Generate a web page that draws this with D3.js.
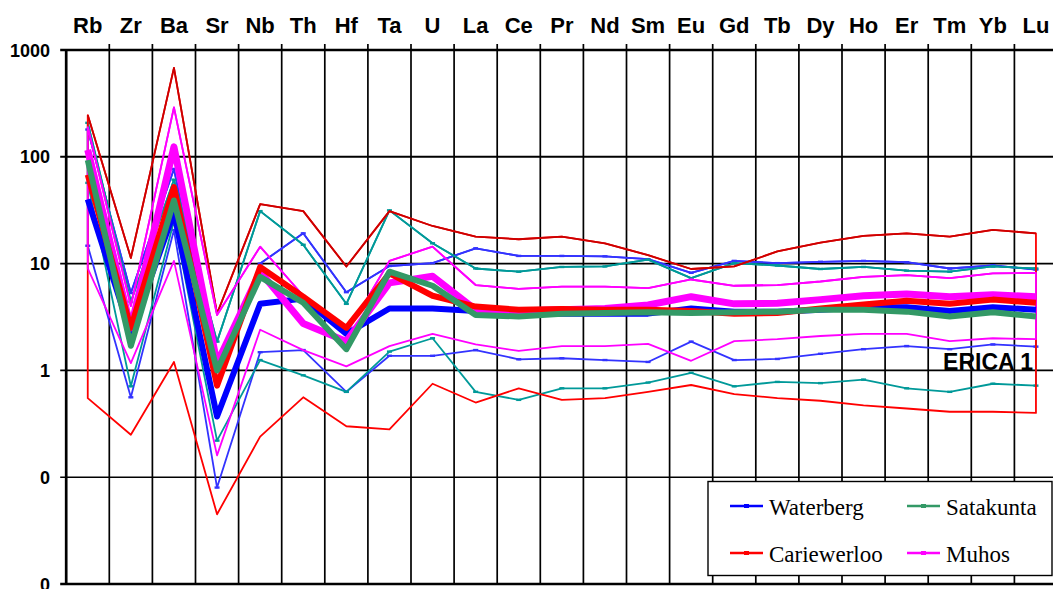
<!DOCTYPE html>
<html>
<head>
<meta charset="utf-8">
<script src="https://cdn.jsdelivr.net/npm/d3@7"></script>
<style>
body { margin: 0; background: white; }
svg { display: block; }
</style>
</head>
<body>
<div id="chart"></div>
<script>
const elements = ['Rb', 'Zr', 'Ba', 'Sr', 'Nb', 'Th', 'Hf', 'Ta', 'U', 'La', 'Ce', 'Pr', 'Nd',
                  'Sm', 'Eu', 'Gd', 'Tb', 'Dy', 'Ho', 'Er', 'Tm', 'Yb', 'Lu'];
const yTicks = [1000, 100, 10, 1, 0.1, 0.01];
const yTickLabels = ['1000', '100', '10', '1', '0', '0'];

const waterbergMax  = [180, 5.3, 77, 0.8, 10, 19.2, 5.4, 9.5, 10.1, 13.9, 11.8, 11.8, 11.7, 11.0, 8.2, 10.6, 10.1, 10.4, 10.6, 10.3, 9.0, 9.6, 8.8];
const waterbergMean = [40, 2.2, 30, 0.37, 4.2, 4.7, 2.2, 3.8, 3.8, 3.6, 3.4, 3.4, 3.4, 3.4, 3.8, 3.55, 3.55, 3.7, 3.9, 3.9, 3.6, 3.9, 3.7];
const waterbergMin  = [14.7, 0.56, 20.6, 0.08, 1.48, 1.55, 0.63, 1.37, 1.37, 1.55, 1.27, 1.3, 1.25, 1.2, 1.86, 1.25, 1.28, 1.43, 1.58, 1.69, 1.58, 1.75, 1.67];

const satakuntaMax  = [208, 4.4, 61, 1.86, 31, 15, 4.2, 31.5, 15.5, 9.0, 8.4, 9.3, 9.4, 10.9, 7.3, 10.1, 9.6, 8.9, 9.3, 8.6, 8.4, 9.4, 9.0];
const satakuntaMean = [93, 1.7, 39, 1.0, 7.5, 4.3, 1.58, 8.4, 6.2, 3.3, 3.2, 3.4, 3.45, 3.5, 3.45, 3.5, 3.55, 3.7, 3.7, 3.55, 3.2, 3.5, 3.2];
const satakuntaMin  = [57, 0.71, 25, 0.22, 1.25, 0.9, 0.63, 1.5, 2.0, 0.63, 0.53, 0.68, 0.68, 0.77, 0.95, 0.71, 0.78, 0.76, 0.82, 0.68, 0.63, 0.75, 0.72];

const cariewerlooMax  = [246, 11.3, 680, 3.4, 36, 31, 9.4, 31, 22.5, 17.9, 16.9, 17.9, 15.5, 12.0, 8.9, 9.4, 13, 15.7, 18.2, 19.2, 17.9, 20.7, 19.2];
const cariewerlooMean = [68, 2.5, 52, 0.72, 9.3, 4.9, 2.5, 8.1, 5.0, 3.96, 3.7, 3.75, 3.7, 3.7, 3.6, 3.4, 3.45, 3.8, 4.15, 4.5, 4.2, 4.6, 4.3];
const cariewerlooMin  = [0.55, 0.25, 1.2, 0.045, 0.24, 0.56, 0.3, 0.28, 0.75, 0.5, 0.68, 0.53, 0.55, 0.63, 0.73, 0.6, 0.55, 0.52, 0.47, 0.44, 0.41, 0.41, 0.4];

const muhosMax  = [190, 4.0, 290, 3.3, 14.4, 5.0, 2.2, 10.6, 14.4, 6.3, 5.8, 6.1, 6.1, 5.9, 7.1, 6.2, 6.3, 6.8, 7.5, 7.8, 7.3, 8.1, 8.2];
const muhosMean = [116, 2.5, 124, 1.17, 8.4, 2.75, 1.87, 6.6, 7.6, 3.7, 3.6, 3.7, 3.8, 4.1, 4.9, 4.2, 4.25, 4.6, 5.0, 5.2, 4.9, 5.1, 4.9];
const muhosMin  = [9.0, 1.17, 10.6, 0.16, 2.4, 1.55, 1.09, 1.69, 2.2, 1.75, 1.52, 1.69, 1.69, 1.77, 1.23, 1.88, 1.96, 2.1, 2.2, 2.2, 1.88, 2.0, 1.96];

const stationLabel = 'ERICA 1';

// legend order: Waterberg, Satakunta / Cariewerloo, Muhos
const groups = [
    { name: 'Waterberg', max: waterbergMax, mean: waterbergMean, min: waterbergMin,
      thin: '#3333ff', upper: '#3333ff', thick: '#0000ff', width: 6, markers: true },
    { name: 'Satakunta', max: satakuntaMax, mean: satakuntaMean, min: satakuntaMin,
      thin: '#009999', upper: '#009999', thick: '#339966', width: 6, markers: true },
    { name: 'Cariewerloo', max: cariewerlooMax, mean: cariewerlooMean, min: cariewerlooMin,
      thin: '#ff0000', upper: '#cc0000', thick: '#ff0000', width: 6, markers: false },
    { name: 'Muhos', max: muhosMax, mean: muhosMean, min: muhosMin,
      thin: '#ff00ff', upper: '#ff00ff', thick: '#ff00ff', width: 7, markers: false }
];
const thickOrder = ['Waterberg', 'Muhos', 'Cariewerloo', 'Satakunta'];

const W = 1053, H = 589;
const plotLeft = 66.2, plotTop = 50, plotBottom = 584;
const band = 43.1;
const plotRight = plotLeft + band * elements.length;

const x = d3.scaleBand()
            .domain(elements)
            .range([plotLeft, plotRight])
            .padding(0);
const y = d3.scaleLog()
            .domain([0.01, 1000])
            .range([plotBottom, plotTop]);
const cx = e => x(e) + x.bandwidth() / 2;

const svg = d3.select('#chart').append('svg')
              .attr('width', W)
              .attr('height', H)
              .style('font-family', '"Liberation Sans", Arial, sans-serif');

// grid
svg.append('g')
    .selectAll('line')
    .data(elements.slice(1))
    .enter()
    .append('line')
        .attr('x1', d => x(d))
        .attr('x2', d => x(d))
        .attr('y1', plotTop - 6)
        .attr('y2', plotBottom)
        .style('stroke', '#000')
        .style('stroke-width', 1.7);

svg.append('g')
    .selectAll('line')
    .data(yTicks.slice(1, 5))
    .enter()
    .append('line')
        .attr('x1', plotLeft - 6)
        .attr('x2', plotRight)
        .attr('y1', d => y(d))
        .attr('y2', d => y(d))
        .style('stroke', '#000')
        .style('stroke-width', (d, i) => i < 3 ? 1.9 : 1.5);

// frame lines: top, bottom, left
svg.append('line')
    .attr('x1', plotLeft - 6).attr('x2', W)
    .attr('y1', y(1000)).attr('y2', y(1000))
    .style('stroke', '#000').style('stroke-width', 2.7);
svg.append('line')
    .attr('x1', plotLeft - 6).attr('x2', W)
    .attr('y1', y(0.01)).attr('y2', y(0.01))
    .style('stroke', '#000').style('stroke-width', 2.7);
svg.append('line')
    .attr('x1', plotLeft).attr('x2', plotLeft)
    .attr('y1', plotTop - 1).attr('y2', plotBottom + 1)
    .style('stroke', '#000').style('stroke-width', 2.7);

// y tick labels
svg.append('g')
    .selectAll('text')
    .data(yTicks)
    .enter()
    .append('text')
        .attr('x', 50)
        .attr('y', d => y(d) + 6.5)
        .attr('text-anchor', 'end')
        .style('font-size', '18px')
        .style('font-weight', 'bold')
        .text((d, i) => yTickLabels[i]);

// element labels along the top
svg.append('g')
    .selectAll('text')
    .data(elements)
    .enter()
    .append('text')
        .attr('x', d => cx(d))
        .attr('y', 33)
        .attr('text-anchor', 'middle')
        .style('font-size', '22px')
        .style('font-weight', 'bold')
        .text(d => d);

const line = d3.line()
               .x(d => cx(d[0]))
               .y(d => y(d[1]));

// envelopes (max across, down at Lu, min back, up at Rb)
for (let g of groups) {
    const upper = elements.map((e, i) => [e, g.max[i]]);
    const lower = elements.map((e, i) => [e, g.min[i]]).reverse();

    svg.append('path')
        .attr('d', line(upper.concat(lower)) + 'Z')
        .style('fill', 'none')
        .style('stroke', g.thin)
        .style('stroke-width', 1.8)
        .style('stroke-linejoin', 'round');

    svg.append('path')
        .attr('d', line(upper))
        .style('fill', 'none')
        .style('stroke', g.upper)
        .style('stroke-width', 1.8)
        .style('stroke-linejoin', 'round');

    if (g.markers) {
        svg.append('g')
            .selectAll('rect')
            .data(upper.concat(lower))
            .enter()
            .append('rect')
                .attr('x', d => cx(d[0]) - 2.5)
                .attr('y', d => y(d[1]) - 1.2)
                .attr('width', 5)
                .attr('height', 2.4)
                .style('fill', g.thin);
    }
}

// mean lines
for (let name of thickOrder) {
    const g = groups.find(d => d.name === name);
    svg.append('path')
        .attr('d', line(elements.map((e, i) => [e, g.mean[i]])))
        .style('fill', 'none')
        .style('stroke', g.thick)
        .style('stroke-width', g.width)
        .style('stroke-linejoin', 'round');
}

svg.append('text')
    .attr('x', 1033)
    .attr('y', 370)
    .attr('text-anchor', 'end')
    .style('font-size', '23px')
    .style('font-weight', 'bold')
    .text(stationLabel);

// legend
const legend = svg.append('g');
legend.append('rect')
    .attr('x', 708)
    .attr('y', 481.5)
    .attr('width', 344)
    .attr('height', 94)
    .style('fill', 'white')
    .style('stroke', '#000')
    .style('stroke-width', 1.4);

const legendPos = [[730, 506], [907, 506], [730, 553], [907, 553]];
groups.forEach((g, i) => {
    const [lx, ly] = legendPos[i];
    legend.append('line')
        .attr('x1', lx).attr('x2', lx + 33)
        .attr('y1', ly).attr('y2', ly)
        .style('stroke', g.thick)
        .style('stroke-width', 2.7);
    legend.append('rect')
        .attr('x', lx + 14).attr('y', ly - 2)
        .attr('width', 5).attr('height', 4)
        .style('fill', g.thick);
    legend.append('text')
        .attr('x', lx + 39)
        .attr('y', ly + 8.5)
        .style('font-family', '"Liberation Serif", "Times New Roman", serif')
        .style('font-size', '23px')
        .text(g.name);
});
</script>
</body>
</html>
